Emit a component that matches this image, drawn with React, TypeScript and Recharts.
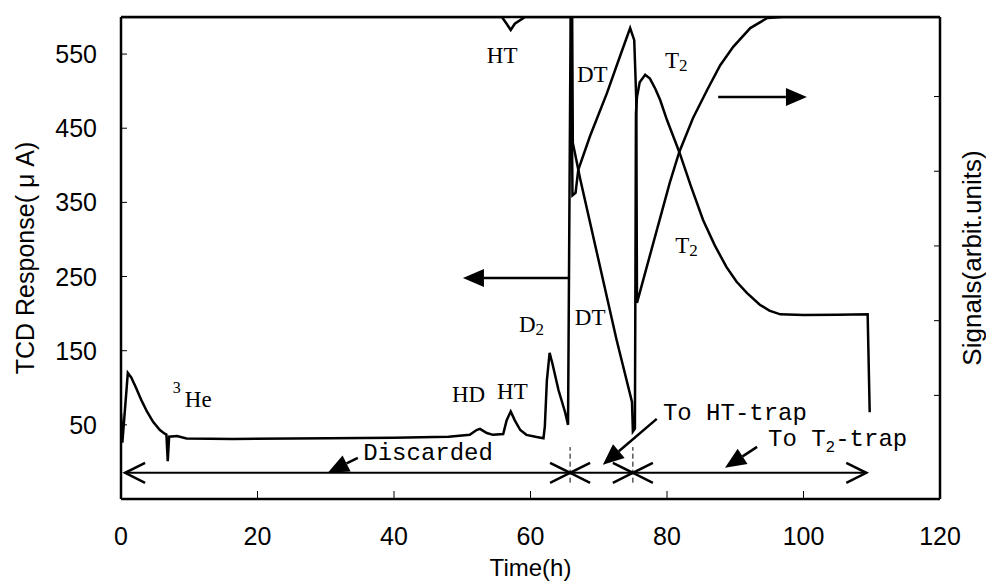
import React from "react";
import {
  Label,
  Line,
  LineChart,
  ReferenceDot,
  ReferenceLine,
  XAxis,
  YAxis,
} from "recharts";

// TCD response, left axis (µA)
const tcdTime = [
  0, 0.2, 1.0, 1.5, 2.2, 3.0, 3.8, 4.7, 5.7, 6.4, 6.65, 6.85, 7.05, 8.2, 9.6,
  16.4, 30.6, 40, 48, 51.1, 52.1, 52.6, 53.6, 54.5, 56.0, 56.5, 57.1, 57.7,
  58.5, 59.4, 60.9, 61.9, 62.1, 62.4, 62.8, 63.2, 64.1, 65.1, 65.5, 65.95,
  66.05, 66.2, 66.5, 67.25, 72.6, 74.87, 75.0, 75.3, 75.45, 75.6, 76.0, 76.8,
  77.5, 78.3, 79.0, 80.0, 81.8, 83.5, 85.3, 87.0, 88.7, 90.2, 91.7, 93.6, 95.0,
  96.6, 100, 105, 109.4, 109.7,
];
const tcdValue = [
  66, 26, 120, 114, 100, 83, 68, 54, 43, 38, 37, 1, 34, 35, 31.5, 31, 32, 32.5,
  34, 36.5, 43, 44.5, 39, 36.5, 37.5, 56, 68, 56, 43, 36.5, 33.5, 32, 48, 110,
  147, 133, 97, 66, 50, 700, 700, 430, 417, 383, 165, 81, 41, 45, 470, 492, 512,
  522, 517, 503, 488, 461, 418, 372, 326, 292, 263, 243, 228, 212, 204, 199,
  198, 198.5, 199, 67,
];

// ionization signals, right axis (arbitrary units)
const sigTime = [
  0, 55.8, 56.5, 57.1, 57.7, 59.2, 65.95, 66.15, 66.6, 67.0, 68.7, 71.2, 73.1,
  74.6, 75.2, 75.5, 75.6, 80.4, 81.8, 83.8, 85.9, 87.8, 89.7, 92.2, 94.7, 97,
  120,
];
const sigValue = [
  100, 100, 98.6, 97.3, 98.6, 100, 100, 63, 63.5, 68.3, 75.2, 84.2, 91.8, 97.7,
  95.2, 82.8, 40.7, 65.6, 72, 79, 84.9, 90, 93.8, 97.7, 99.8, 100, 100,
];

const xTicks = [0, 20, 40, 60, 80, 100, 120];
const leftTicks = [50, 150, 250, 350, 450, 550];
const rightTicks = [21.5, 37, 52.5, 68, 83.5];

// collection ranges along the bottom (h)
const rangeBounds = [0.6, 65.8, 75.0, 109.2];
const rangeLevel = -14.7;

// annotation arrows [x, y] in left-axis units
const arrows = [
  { from: [34.7, 5.5], to: [30.3, -14.7] },
  { from: [78.5, 58.1], to: [70.6, -3.9] },
  { from: [93.2, 20.3], to: [88.5, -8.0] },
  { from: [65.8, 248], to: [50.1, 248] },
  { from: [87.5, 492], to: [100.5, 492] },
];

type Note = {
  x: number;
  y: number;
  text: string;
  sup?: string;
  sub?: string;
  tail?: string;
  mono?: boolean;
};

const notes: Note[] = [
  { x: 7.6, y: 74.3, text: "He", sup: "3" },
  { x: 48.5, y: 81, text: "HD" },
  { x: 55.1, y: 85, text: "HT" },
  { x: 58.3, y: 175.4, text: "D", sub: "2" },
  { x: 66.5, y: 184.9, text: "DT" },
  { x: 66.8, y: 512.6, text: "DT" },
  { x: 53.6, y: 538.2, text: "HT" },
  { x: 79.7, y: 531.5, text: "T", sub: "2" },
  { x: 81.2, y: 282, text: "T", sub: "2" },
  { x: 35.5, y: 2.8, text: "Discarded", mono: true },
  { x: 79.4, y: 56.7, text: "To HT-trap", mono: true },
  { x: 94.8, y: 21.7, text: "To T", sub: "2", tail: "-trap", mono: true },
];

const tcdData = tcdTime.map((t, i) => ({ t, v: tcdValue[i] }));
const sigData = sigTime.map((t, i) => ({ t, v: sigValue[i] }));

const SANS = "'Liberation Sans', Arial, sans-serif";
const SERIF = "'Liberation Serif', 'Times New Roman', serif";
const MONO = "'Liberation Mono', 'DejaVu Sans Mono', monospace";

function NoteText({ cx, cy, note }: { cx: number; cy: number; note: Note }) {
  const size = note.mono ? 24 : 23;
  const subSize = note.mono ? 16 : 17;
  return (
    <text
      x={cx}
      y={cy}
      fontFamily={note.mono ? MONO : SERIF}
      fontSize={size}
      fill="#000"
    >
      {note.sup && (
        <tspan fontSize={16} dy={-14}>
          {note.sup}
        </tspan>
      )}
      <tspan dy={note.sup ? 14 : 0} dx={note.sup ? 4 : 0}>
        {note.text}
      </tspan>
      {note.sub && (
        <tspan fontSize={subSize} dy={note.mono ? 6 : 3}>
          {note.sub}
        </tspan>
      )}
      {note.tail && <tspan dy={-6}>{note.tail}</tspan>}
    </text>
  );
}

function FilledArrow(p: any) {
  const { x1, y1, x2, y2 } = p;
  const a = Math.atan2(y2 - y1, x2 - x1);
  const len = 21;
  const half = 9;
  const bx = x2 - len * Math.cos(a);
  const by = y2 - len * Math.sin(a);
  const nx = -Math.sin(a) * half;
  const ny = Math.cos(a) * half;
  return (
    <g>
      <line x1={x1} y1={y1} x2={bx} y2={by} stroke="#000" strokeWidth={2.5} />
      <polygon
        points={`${x2},${y2} ${bx + nx},${by + ny} ${bx - nx},${by - ny}`}
        fill="#000"
      />
    </g>
  );
}

function OpenDoubleArrow(p: any) {
  const { x1, y1, x2, y2 } = p;
  const len = 20;
  const half = 10;
  return (
    <g stroke="#000" fill="none">
      <line x1={x1} y1={y1} x2={x2} y2={y2} strokeWidth={2} />
      <polyline
        points={`${x1 + len},${y1 - half} ${x1},${y1} ${x1 + len},${y1 + half}`}
        strokeWidth={2.5}
      />
      <polyline
        points={`${x2 - len},${y2 - half} ${x2},${y2} ${x2 - len},${y2 + half}`}
        strokeWidth={2.5}
      />
    </g>
  );
}

export default function App() {
  return (
    <div style={{ position: "absolute", left: 0, top: 0, background: "#fff" }}>
      <LineChart
        width={986}
        height={583}
        margin={{ top: 17, right: 0, bottom: 0, left: 0 }}
      >
        <XAxis
          type="number"
          dataKey="t"
          domain={[0, 120]}
          ticks={xTicks}
          interval={0}
          allowDataOverflow
          height={84}
          tickSize={0}
          tickMargin={0}
          tickLine={false}
          axisLine={{ stroke: "#000", strokeWidth: 2.5 }}
          tick={(p: any) => (
            <g>
              <line x1={p.x} y1={p.y} x2={p.x} y2={p.y - 8} stroke="#000" />
              <text
                x={p.x}
                y={p.y + 46}
                textAnchor="middle"
                fontFamily={SANS}
                fontSize={25}
                fill="#000"
              >
                {p.payload.value}
              </text>
            </g>
          )}
        >
          <Label
            content={(p: any) => {
              const vb = p.viewBox;
              return (
                <text
                  x={vb.x + vb.width / 2}
                  y={vb.y + 77}
                  textAnchor="middle"
                  fontFamily={SANS}
                  fontSize={24}
                  fill="#000"
                >
                  Time(h)
                </text>
              );
            }}
          />
        </XAxis>
        <YAxis
          yAxisId="left"
          type="number"
          domain={[-50, 600]}
          ticks={leftTicks}
          interval={0}
          allowDataOverflow
          width={121}
          tickSize={0}
          tickMargin={0}
          tickLine={false}
          axisLine={{ stroke: "#000", strokeWidth: 2.5 }}
          tick={(p: any) => (
            <g>
              <line x1={p.x} y1={p.y} x2={p.x + 6} y2={p.y} stroke="#000" />
              <text
                x={p.x - 24}
                y={p.y + 9}
                textAnchor="end"
                fontFamily={SANS}
                fontSize={25}
                fill="#000"
              >
                {p.payload.value}
              </text>
            </g>
          )}
        >
          <Label
            content={(p: any) => {
              const vb = p.viewBox;
              const cx = vb.x + 25;
              const cy = vb.y + vb.height / 2;
              return (
                <text
                  transform={`translate(${cx},${cy}) rotate(-90)`}
                  textAnchor="middle"
                  dominantBaseline="central"
                  fontFamily={SANS}
                  fontSize={25}
                  fill="#000"
                >
                  TCD Response( μ A)
                </text>
              );
            }}
          />
        </YAxis>
        <YAxis
          yAxisId="right"
          orientation="right"
          type="number"
          domain={[0, 100]}
          ticks={rightTicks}
          interval={0}
          allowDataOverflow
          width={46}
          tickSize={0}
          tickMargin={0}
          tickLine={false}
          axisLine={{ stroke: "#000", strokeWidth: 2.5 }}
          tick={(p: any) => (
            <line x1={p.x} y1={p.y} x2={p.x - 6} y2={p.y} stroke="#000" />
          )}
        >
          <Label
            content={(p: any) => {
              const vb = p.viewBox;
              const cx = vb.x + 32;
              const cy = vb.y + vb.height / 2;
              return (
                <text
                  transform={`translate(${cx},${cy}) rotate(-90)`}
                  textAnchor="middle"
                  dominantBaseline="central"
                  fontFamily={SANS}
                  fontSize={26}
                  fill="#000"
                >
                  Signals(arbit.units)
                </text>
              );
            }}
          />
        </YAxis>

        {/* top edge of the frame */}
        <ReferenceLine yAxisId="left" y={600} stroke="#000" strokeWidth={2.5} />

        <Line
          yAxisId="left"
          data={tcdData}
          dataKey="v"
          type="linear"
          stroke="#000"
          strokeWidth={2.5}
          dot={false}
          activeDot={false}
          isAnimationActive={false}
        />
        <Line
          yAxisId="right"
          data={sigData}
          dataKey="v"
          type="linear"
          stroke="#000"
          strokeWidth={2.5}
          dot={false}
          activeDot={false}
          isAnimationActive={false}
        />

        {rangeBounds.slice(1, -1).map((b) => (
          <ReferenceLine
            key={`div-${b}`}
            yAxisId="left"
            segment={[
              { x: b, y: -28 },
              { x: b, y: 20 },
            ]}
            stroke="#000"
            strokeWidth={1}
            strokeDasharray="5 3"
          />
        ))}
        {rangeBounds.slice(0, -1).map((b, i) => (
          <ReferenceLine
            key={`rng-${b}`}
            yAxisId="left"
            segment={[
              { x: b, y: rangeLevel },
              { x: rangeBounds[i + 1], y: rangeLevel },
            ]}
            shape={OpenDoubleArrow}
          />
        ))}
        {arrows.map((a, i) => (
          <ReferenceLine
            key={`arr-${i}`}
            yAxisId="left"
            segment={[
              { x: a.from[0], y: a.from[1] },
              { x: a.to[0], y: a.to[1] },
            ]}
            shape={FilledArrow}
          />
        ))}
        {notes.map((n, i) => (
          <ReferenceDot
            key={`note-${i}`}
            yAxisId="left"
            x={n.x}
            y={n.y}
            r={0}
            shape={(p: any) => <NoteText cx={p.cx} cy={p.cy} note={n} />}
          />
        ))}
      </LineChart>
    </div>
  );
}
